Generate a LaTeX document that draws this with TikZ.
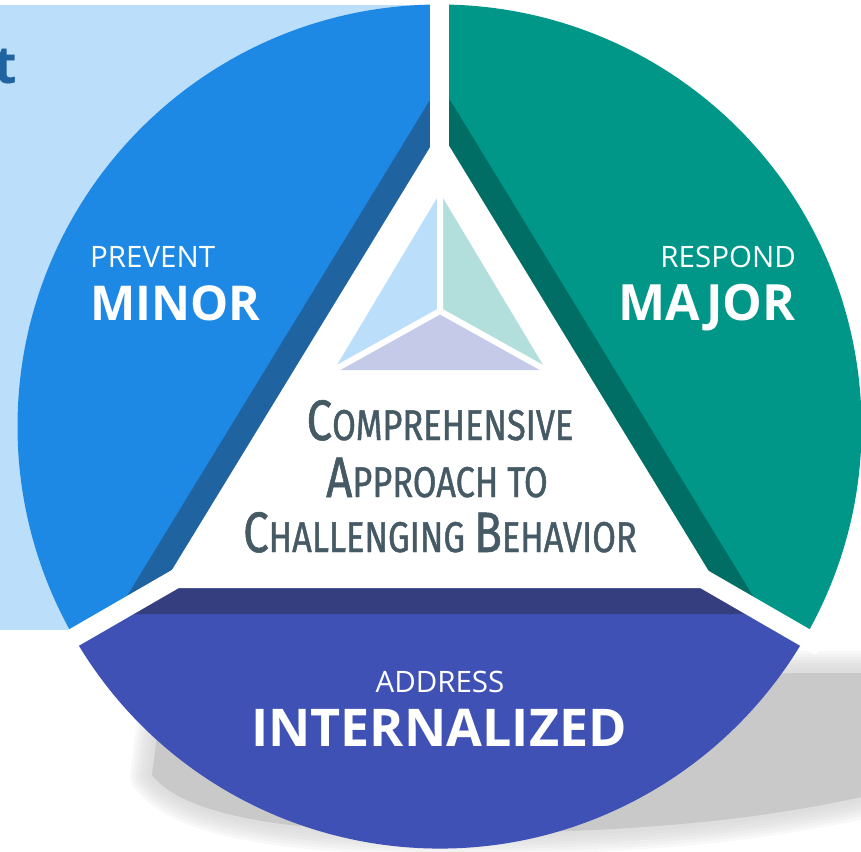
\documentclass[tikz,border=0pt]{standalone}
\usepackage{fontspec}
\setmainfont{Open Sans}
\newfontfamily\condfont[FakeStretch=0.8, FakeBold=1]{Fira Sans}
\usetikzlibrary{calc}

\definecolor{bluemain}{HTML}{1E88E5}
\definecolor{bluedark}{HTML}{1F63A1}
\definecolor{bluelight}{HTML}{BBDEFB}
\definecolor{tealmain}{HTML}{009688}
\definecolor{tealdark}{HTML}{006E64}
\definecolor{teallight}{HTML}{B2DFDB}
\definecolor{indigomain}{HTML}{3F51B5}
\definecolor{indigodark}{HTML}{353F80}
\definecolor{indigolight}{HTML}{C5CAE9}
\definecolor{slate}{HTML}{455A64}
\definecolor{shadowgrey}{HTML}{C9C9C9}

\newcommand{\capsc}[2]{{\fontsize{57}{57}\selectfont #1}{\fontsize{43}{43}\selectfont #2}}

\begin{document}
\begin{tikzpicture}[x=1pt, y=1pt,
  sectortext/.style={text=white, inner sep=0pt},
  gapline/.style={white, line width=19pt},
  centertext/.style={text=slate, inner sep=0pt, anchor=base, font=\condfont\fontsize{43}{43}\selectfont}]

  \useasboundingbox (0,0) rectangle (861,-851);

  % soft shadow under the lower part
  \foreach \w in {44,38,32,26,20,14,8}
    \draw[shadowgrey, opacity=0.13, line width=\w pt, line join=round]
      (160,-712) -- (790,-673) -- (900,-673) -- (900,-788)
      .. controls (780,-818) and (650,-833) .. (450,-833)
      .. controls (300,-833) and (185,-818) .. (152,-775) -- cycle;
  \fill[shadowgrey]
      (160,-712) -- (790,-673) -- (900,-673) -- (900,-788)
      .. controls (780,-818) and (650,-833) .. (450,-833)
      .. controls (300,-833) and (185,-818) .. (152,-775) -- cycle;

  % background panel
  \fill[bluelight] (0,-5) rectangle (430,-630);
  \node[anchor=base east, inner sep=0pt, text=bluedark, font=\fontsize{52}{52}\selectfont\bfseries] (tword) at (17,-83) {t};

  \coordinate (O) at (439.5,-426.5);

  % the three sectors
  \fill[bluemain] (O) -- ++(90:422) arc[start angle=90, end angle=210, radius=422] -- cycle;
  \fill[tealmain] (O) -- ++(-30:422) arc[start angle=-30, end angle=90, radius=422] -- cycle;
  \fill[indigomain] (O) -- ++(210:422) arc[start angle=210, end angle=330, radius=422] -- cycle;

  % bevel bands round the triangle
  \coordinate (A') at (440,-83.6);
  \coordinate (B') at (116,-614);
  \coordinate (C') at (764,-614);
  \begin{scope}
    \clip (O) -- ++(90:500) arc[start angle=90, end angle=210, radius=500] -- cycle;
    \fill[bluedark] (A') -- (B') -- (C') -- cycle;
  \end{scope}
  \begin{scope}
    \clip (O) -- ++(-30:500) arc[start angle=-30, end angle=90, radius=500] -- cycle;
    \fill[tealdark] (A') -- (B') -- (C') -- cycle;
  \end{scope}
  \begin{scope}
    \clip (O) -- ++(210:500) arc[start angle=210, end angle=330, radius=500] -- cycle;
    \fill[indigodark] (A') -- (B') -- (C') -- cycle;
  \end{scope}

  % white centre triangle
  \fill[white] (440,-131) -- (161,-588) -- (719,-588) -- cycle;

  % gaps between the sectors
  \draw[gapline] (O) -- ++(90:440);
  \draw[gapline] (O) -- ++(210:440);
  \draw[gapline] (O) -- ++(330:440);

  % small triangle mark
  \coordinate (A) at (440,-193);
  \coordinate (B) at (334,-370);
  \coordinate (C) at (546,-370);
  \coordinate (M) at (440,-311);
  \fill[bluelight] (A) -- (B) -- (M) -- cycle;
  \fill[teallight] (A) -- (C) -- (M) -- cycle;
  \fill[indigolight] (B) -- (C) -- (M) -- cycle;
  \draw[white, line width=6pt] (M) -- (A) (M) -- (B) (M) -- (C);

  % labels
  \node[sectortext, anchor=base west, font=\fontsize{29.5}{30}\selectfont] (prevent) at (90,-267) {PREVENT};
  \node[sectortext, anchor=base west, font=\fontsize{48}{50}\selectfont\bfseries] (minor) at (90,-320) {MINOR};
  \node[sectortext, anchor=base east, font=\fontsize{29.5}{30}\selectfont] (respond) at (796,-267) {RESPOND};
  \node[sectortext, anchor=base east, font=\fontsize{50}{50}\selectfont\bfseries] (major) at (796,-320) {MAJOR};
  \node[sectortext, anchor=base, font=\fontsize{29.5}{30}\selectfont] (address) at (440,-692) {ADDRESS};
  \node[sectortext, anchor=base, font=\fontsize{52}{52}\selectfont\bfseries] (internal) at (439,-746) {INTERNALIZED};

  \node[centertext] (comp1) at (440,-440) {\capsc{C}{OMPREHENSIVE}};
  \node[centertext] (comp2) at (437,-497) {\capsc{A}{PPROACH TO}};
  \node[centertext] (comp3) at (440,-552) {\capsc{C}{HALLENGING} \capsc{B}{EHAVIOR}};

\end{tikzpicture}
\end{document}
